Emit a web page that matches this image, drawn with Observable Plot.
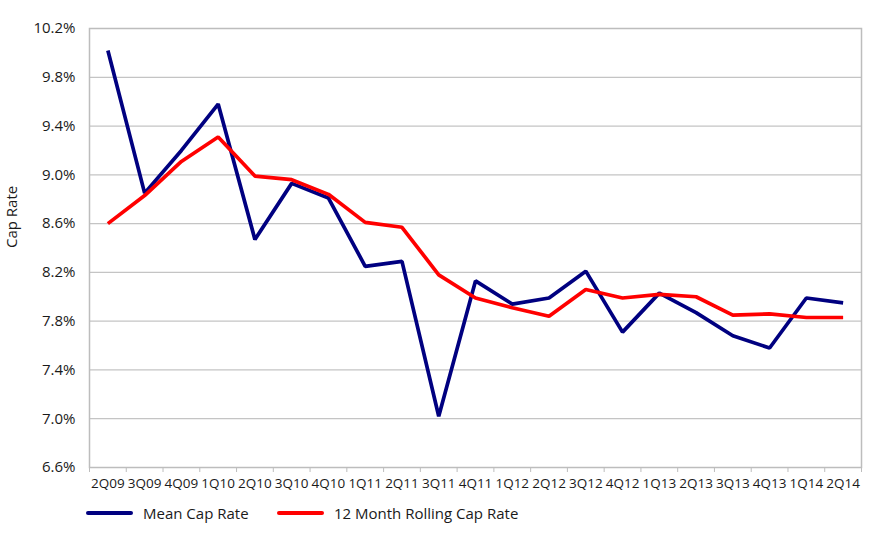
<!DOCTYPE html>
<html>
<head>
<meta charset="utf-8">
<script src="https://cdn.jsdelivr.net/npm/d3@7"></script>
<script src="https://cdn.jsdelivr.net/npm/@observablehq/plot@0.6"></script>
<style>
  body { margin: 0; background: #fff; font-family: "Open Sans", sans-serif; }
  #legend { position: relative; height: 50px; font-size: 15px; color: #1a1a1a; }
  .item { position: absolute; top: 0; height: 36px; display: flex; align-items: center; }
  .sw { width: 47px; height: 4px; border-radius: 2px; margin-right: 10px; }
</style>
</head>
<body>
<div id="chart"></div>
<div id="legend"></div>
<script>
const quarters = ["2Q09","3Q09","4Q09","1Q10","2Q10","3Q10","4Q10","1Q11","2Q11","3Q11","4Q11","1Q12","2Q12","3Q12","4Q12","1Q13","2Q13","3Q13","4Q13","1Q14","2Q14"];
const meanCapRate = [10.02,8.85,9.20,9.58,8.47,8.93,8.81,8.25,8.29,7.02,8.13,7.94,7.99,8.21,7.71,8.03,7.87,7.68,7.58,7.99,7.95];
const rollingCapRate = [8.60,8.83,9.11,9.31,8.99,8.96,8.84,8.61,8.57,8.18,7.99,7.91,7.84,8.06,7.99,8.02,8.00,7.85,7.86,7.83,7.83];
const yTicks = [6.6,7.0,7.4,7.8,8.2,8.6,9.0,9.4,9.8,10.2];
const yTitle = "Cap Rate";
const seriesNames = ["Mean Cap Rate","12 Month Rolling Cap Rate"];
const seriesColors = ["#000080","#ff0000"];

const rows = [];
quarters.forEach((q, i) => {
  rows.push({i: i + 0.5, q, v: meanCapRate[i], s: seriesNames[0]});
  rows.push({i: i + 0.5, q, v: rollingCapRate[i], s: seriesNames[1]});
});
const labelPos = quarters.map((q, i) => i + 0.5);
const boundaries = d3.range(quarters.length + 1);

const chart = Plot.plot({
  width: 870,
  height: 495,
  marginLeft: 89,
  marginRight: 9,
  marginTop: 28,
  marginBottom: 28,
  style: {fontFamily: "Open Sans, sans-serif", fontSize: "15px", color: "#1a1a1a", background: "#fff"},
  x: {type: "linear", domain: [0, quarters.length]},
  y: {domain: [6.6, 10.2]},
  color: {domain: seriesNames, range: seriesColors},
  marks: [
    Plot.gridY(yTicks, {stroke: "#c4c4c4", strokeOpacity: 1, strokeWidth: 1.2}),
    Plot.frame({stroke: "#bdbdbd", strokeWidth: 1.5}),
    Plot.axisY(yTicks, {tickSize: 0, tickPadding: 14, fontSize: 15, tickFormat: d => d.toFixed(1) + "%", label: null}),
    Plot.text([yTitle], {frameAnchor: "left", rotate: -90, dx: -77, dy: 0, fontSize: 15, fill: "#1a1a1a"}),
    Plot.axisX(boundaries, {tickSize: 5, stroke: "#bdbdbd", text: null, label: null}),
    Plot.axisX(labelPos, {tickSize: 0, tickPadding: 11, fontSize: 13.5, tickFormat: d => quarters[Math.round(d - 0.5)], label: null}),
    Plot.line(rows, {x: "i", y: "v", z: "s", stroke: "s", strokeWidth: 3.7, strokeLinejoin: "miter", strokeLinecap: "butt"})
  ]
});
document.getElementById("chart").append(chart);

const legend = document.getElementById("legend");
const lefts = [86, 277];
seriesNames.forEach((name, k) => {
  const item = document.createElement("div");
  item.className = "item";
  item.style.left = lefts[k] + "px";
  item.innerHTML = `<span class="sw" style="background:${seriesColors[k]}"></span><span>${name}</span>`;
  legend.append(item);
});
</script>
</body>
</html>
